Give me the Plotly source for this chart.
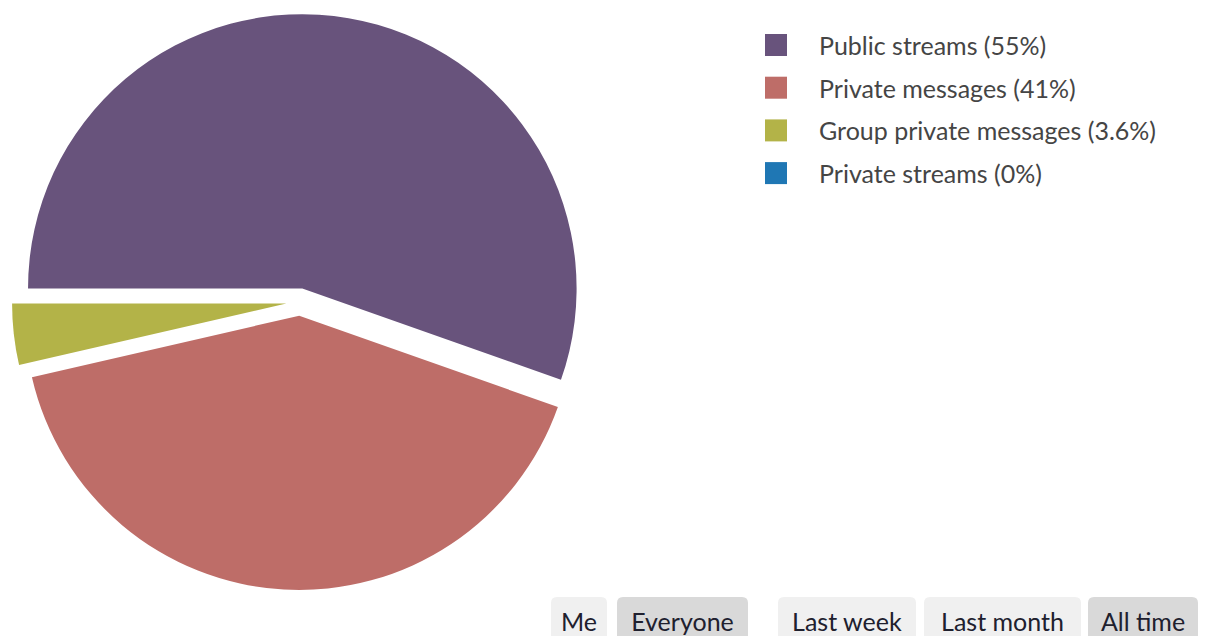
import plotly.graph_objects as go

# ---- data ----
labels = ["Public streams", "Private messages", "Group private messages", "Private streams"]
values = [55.4, 41.0, 3.6, 0.0]
colors = ["#68537c", "#be6d68", "#b3b348", "#1f77b4"]
buttons_left = ["Me", "Everyone"]
buttons_right = ["Last week", "Last month", "All time"]

W, H = 1206, 636
FONT = "Lato"
OFF = 8  # page body margin in the browser: place things relative to screen

M_T = 14 - OFF
M_B = H - (590 - OFF)


def fmt_pct(v, total):
    p = 100.0 * v / total
    if p == 0:
        return "0%"
    return f"{p:.2g}%"


total = sum(values)
legend_text = [f"{l} ({fmt_pct(v, total)})" for l, v in zip(labels, values)]

fig = go.Figure(
    go.Pie(
        labels=labels,
        values=values,
        marker=dict(colors=colors),
        sort=False,
        direction="clockwise",
        rotation=-90,
        pull=0.05,
        textinfo="none",
        hoverinfo="label+percent",
        showlegend=False,
        domain=dict(x=[0, 2 * (300 - OFF) / W], y=[0, 1]),
    )
)

shapes = []
annotations = []

# custom legend (large square swatches)
sq_x = (765 - OFF) / W
txt_x = (817 - OFF) / W
row0 = 45
row_gap = 42.7
for i, (txt, col) in enumerate(zip(legend_text, colors)):
    yc = row0 + i * row_gap - OFF - M_T  # px below top of plot area
    shapes.append(dict(
        type="rect", xref="paper", yref="paper",
        xsizemode="pixel", ysizemode="pixel",
        xanchor=sq_x, yanchor=1,
        x0=0, x1=22, y0=-yc - 11, y1=-yc + 11,
        fillcolor=col, line=dict(width=0),
    ))
    annotations.append(dict(
        xref="paper", yref="paper", x=txt_x, y=1,
        yshift=-yc, xanchor="left", yanchor="middle",
        text=txt, showarrow=False,
        font=dict(family=FONT, size=25, color="#454545"),
    ))

# toggle buttons along the bottom (rounded backgrounds + text)
btn_pos = [
    (551, 607, "#f0f0f0"),
    (617, 748, "#d9d9d9"),
    (778, 916, "#f0f0f0"),
    (924, 1081, "#f0f0f0"),
    (1088, 1198, "#d9d9d9"),
]
names = buttons_left + buttons_right
top = -(597 - 590)
bot = top - 48
rad = 6
for (x0, x1, bg), nm in zip(btn_pos, names):
    w = x1 - x0
    path = (f"M0,{bot} L0,{top - rad} Q0,{top} {rad},{top} "
            f"L{w - rad},{top} Q{w},{top} {w},{top - rad} L{w},{bot} Z")
    shapes.append(dict(
        type="path", xref="paper", yref="paper",
        xsizemode="pixel", ysizemode="pixel",
        xanchor=(x0 - OFF) / W, yanchor=0,
        path=path, fillcolor=bg, line=dict(width=0),
    ))
    annotations.append(dict(
        xref="paper", yref="paper", x=(x0 - OFF) / W, y=0, yshift=top,
        xanchor="left", yanchor="top", width=w, height=48,
        align="center", valign="middle",
        borderpad=0, borderwidth=0,
        text=nm, showarrow=False,
        font=dict(family=FONT, size=25, color="#20202e"),
    ))

fig.update_layout(
    width=W, height=H,
    margin=dict(l=0, r=0, t=M_T, b=M_B),
    paper_bgcolor="white", plot_bgcolor="white",
    shapes=shapes, annotations=annotations,
    font=dict(family=FONT),
)

fig.write_html("out.html")
